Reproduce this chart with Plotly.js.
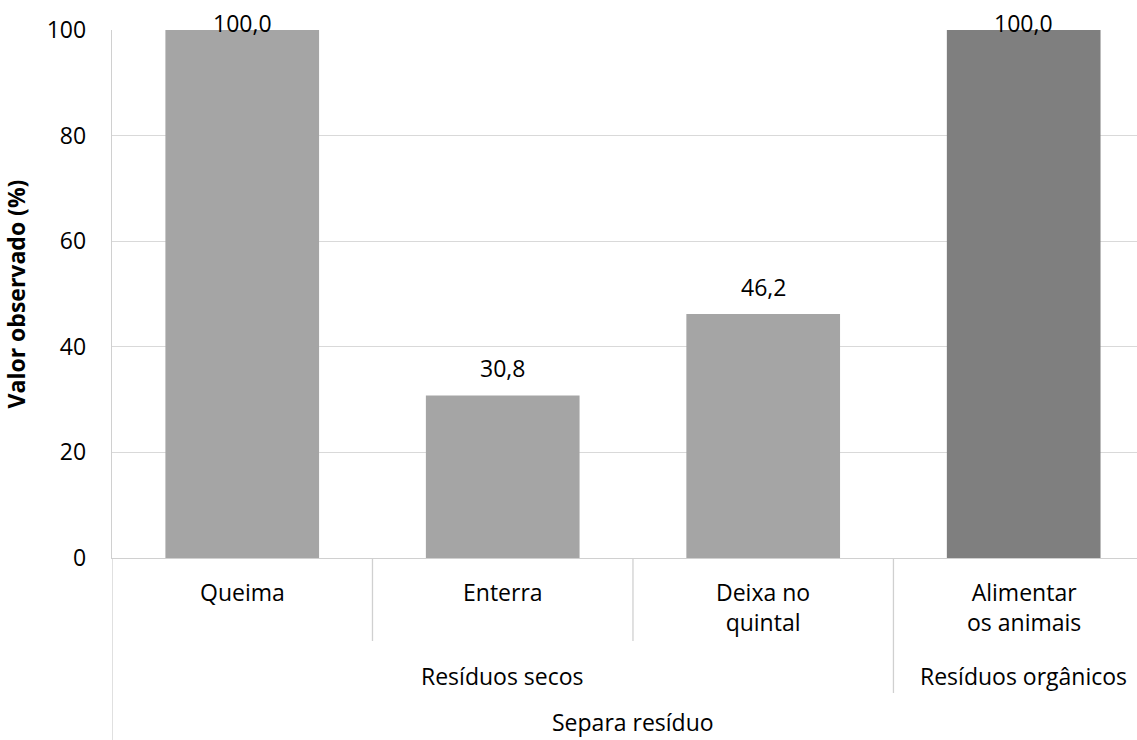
<!DOCTYPE html>
<html>
<head>
<meta charset="utf-8">
<script src="https://cdn.plot.ly/plotly-3.0.1.min.js"></script>
<style>html,body{margin:0;padding:0;background:#fff;}#chart{width:1137px;height:740px;}</style>
</head>
<body>
<div id="chart"></div>
<script>
// Data
const categories = ['Queima', 'Enterra', 'Deixa no<br>quintal', 'Alimentar<br>os animais'];
const values = [100.0, 30.8, 46.2, 100.0];
const groupLevel2 = ['Resíduos secos', 'Resíduos secos', 'Resíduos secos', 'Resíduos orgânicos'];
const groupLevel3 = 'Separa resíduo';
const barColors = ['#A5A5A5', '#A5A5A5', '#A5A5A5', '#7F7F7F'];
const yTickVals = [0, 20, 40, 60, 80, 100];
const yTitle = 'Valor observado (%)';

const FONT = 'Open Sans, sans-serif';
const FS = 23;
const plotH = 740 - 30 - 182;
const px2paper = p => -p / plotH; // pixels below the x axis -> paper y

const annotations = [];
const shapes = [];

// value labels
values.forEach((v, i) => {
  annotations.push({
    x: categories[i], y: v, xref: 'x', yref: 'y',
    text: v.toFixed(1).replace('.', ','),
    showarrow: false, yanchor: 'middle',
    yshift: v >= 99 ? 7 : 27,
    font: {family: FONT, size: FS, color: '#000'}
  });
});

// level 1 labels
categories.forEach((c, i) => {
  annotations.push({
    x: i, y: px2paper(16), xref: 'x', yref: 'paper',
    text: c, showarrow: false, yanchor: 'top', align: 'center',
    font: {family: FONT, size: FS, color: '#000'}
  });
});

// level 2 groups
const groups = [];
groupLevel2.forEach((g, i) => {
  if (!groups.length || groups[groups.length - 1].name !== g) groups.push({name: g, start: i, end: i});
  else groups[groups.length - 1].end = i;
});
groups.forEach(g => {
  annotations.push({
    x: (g.start + g.end) / 2, y: px2paper(118), xref: 'x', yref: 'paper',
    text: g.name, showarrow: false, yanchor: 'middle',
    font: {family: FONT, size: FS, color: '#000'}
  });
});
// level 3
annotations.push({
  x: (categories.length - 1) / 2, y: px2paper(164), xref: 'x', yref: 'paper',
  text: groupLevel3, showarrow: false, yanchor: 'middle', borderpad: 0,
  font: {family: FONT, size: FS, color: '#000'}
});

// separators
const lineStyle = {color: '#D0D0D0', width: 1.3};
for (let i = 0; i < categories.length - 1; i++) {
  const isGroupBoundary = groupLevel2[i] !== groupLevel2[i + 1];
  shapes.push({
    type: 'line', xref: 'x', yref: 'paper', x0: i + 0.5, x1: i + 0.5,
    y0: 0, y1: px2paper(isGroupBoundary ? 135 : 83), line: lineStyle
  });
}
shapes.push({
  type: 'line', xref: 'x', yref: 'paper', x0: -0.5, x1: -0.5,
  y0: 0, y1: px2paper(190), line: lineStyle
});

const trace = {
  type: 'bar',
  x: categories,
  y: values,
  marker: {color: barColors},
  width: 0.59,
  hoverinfo: 'x+y'
};

const layout = {
  width: 1137, height: 740,
  margin: {l: 112, r: 0, t: 30, b: 182, pad: 0},
  paper_bgcolor: '#fff', plot_bgcolor: '#fff',
  showlegend: false,
  font: {family: FONT, size: FS, color: '#000'},
  xaxis: {
    type: 'category',
    range: [-0.5, 3.435],
    showticklabels: false,
    ticks: '',
    showgrid: false,
    zeroline: false,
    showline: true, linecolor: '#D0D0D0', linewidth: 1.3
  },
  yaxis: {
    range: [0, 100],
    tickvals: yTickVals,
    ticktext: yTickVals.map(String),
    ticks: '',
    ticklabelstandoff: 20,
    showgrid: true, gridcolor: '#D9D9D9', gridwidth: 1.3,
    zeroline: false,
    showline: true, linecolor: '#D0D0D0', linewidth: 1.3,
    tickfont: {family: FONT, size: FS, color: '#000'},
    title: {text: '<b>' + yTitle + '</b>', font: {family: FONT, size: FS, color: '#000'}, standoff: 24}
  },
  annotations: annotations,
  shapes: shapes
};

Plotly.newPlot('chart', [trace], layout, {displayModeBar: false, staticPlot: true});
</script>
</body>
</html>
